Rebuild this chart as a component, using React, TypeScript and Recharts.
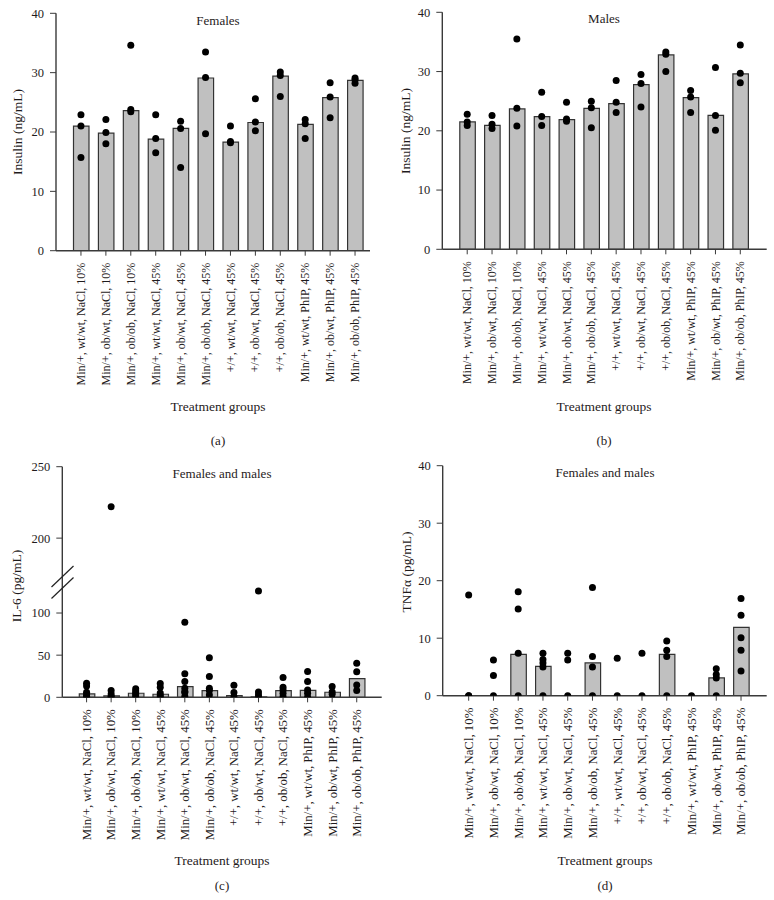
import React from 'react';
import { ComposedChart, Bar, Scatter, XAxis, YAxis } from 'recharts';

// ---------------- DATA ----------------
const groups = [
  'Min/+, wt/wt, NaCl, 10%',
  'Min/+, ob/wt, NaCl, 10%',
  'Min/+, ob/ob, NaCl, 10%',
  'Min/+, wt/wt, NaCl, 45%',
  'Min/+, ob/wt, NaCl, 45%',
  'Min/+, ob/ob, NaCl, 45%',
  '+/+, wt/wt, NaCl, 45%',
  '+/+, ob/wt, NaCl, 45%',
  '+/+, ob/ob, NaCl, 45%',
  'Min/+, wt/wt, PhIP, 45%',
  'Min/+, ob/wt, PhIP, 45%',
  'Min/+, ob/ob, PhIP, 45%',
];

const femaleInsulinMedian = [21.0, 19.8, 23.6, 18.8, 20.6, 29.1, 18.3, 21.6, 29.4, 21.3, 25.8, 28.7];
const femaleInsulinPoints = [
  [22.9, 21.0, 15.7], [22.1, 19.9, 18.0], [34.6, 23.8, 23.4], [22.9, 18.9, 16.5],
  [21.8, 20.6, 14.0], [33.5, 29.2, 19.7], [21.0, 18.4, 18.2], [25.6, 21.7, 20.2],
  [30.1, 29.5, 26.0], [22.1, 21.4, 18.9], [28.3, 25.9, 22.4], [29.1, 28.8, 28.2],
];

const maleInsulinMedian = [21.5, 20.9, 23.7, 22.4, 21.9, 23.8, 24.6, 27.8, 32.8, 25.6, 22.6, 29.6];
const maleInsulinPoints = [
  [22.8, 21.5, 20.9], [22.6, 21.1, 20.4], [35.5, 23.8, 20.8], [26.5, 22.4, 20.9],
  [24.8, 22.0, 21.6], [25.0, 23.9, 20.5], [28.5, 24.8, 23.1], [29.5, 28.0, 24.0],
  [33.3, 32.9, 30.0], [26.8, 25.7, 23.1], [30.7, 22.6, 20.1], [34.5, 29.7, 28.1],
];

const il6Median = [4.0, 1.6, 4.8, 3.6, 12.7, 8.0, 2.0, 0.5, 8.0, 8.3, 6.0, 22.2];
const il6Points = [
  [16.7, 13.5, 6, 3, 1, 0],
  [222, 8, 4, 1, 0],
  [10, 7.5, 5, 3, 1],
  [16.5, 12, 5, 2, 0],
  [89, 27.8, 18.7, 10.7, 7, 5.6, 1],
  [46.8, 24.6, 10.7, 8, 2.8],
  [14.3, 5.6, 0.8],
  [126, 6.3, 2.8, 0],
  [23.4, 12, 8.7, 4.8, 0.8],
  [30.6, 18.7, 8.7, 4.8, 0],
  [12.7, 6.3, 3.2],
  [40.5, 30.2, 14.7, 8],
];

const tnfMedian = [0, 0, 7.2, 5.1, 0, 5.7, 0, 0, 7.2, 0, 3.1, 11.9];
const tnfPoints = [
  [17.5, 0, 0], [6.2, 3.5, 0], [18.1, 15.1, 7.4, 0], [7.4, 6.3, 5.7, 5.0, 0],
  [7.4, 6.2, 0], [18.8, 6.8, 5.0, 0], [6.5, 0], [7.4, 0],
  [9.5, 7.9, 6.8, 0], [0], [4.7, 3.7, 3.1, 0], [16.9, 14.0, 10.1, 7.9, 4.3],
];

const insulinTicks = [0, 10, 20, 30, 40];
const tnfTicks = [0, 10, 20, 30, 40];
const il6UpperTicks = [200, 250];
const il6LowerTicks = [0, 50, 100];
const il6UpperDomain = [170, 250];
const il6LowerDomain = [0, 138];

// ---------------- STYLE ----------------
const FONT = '"Liberation Serif", "Times New Roman", serif';
const TEXT = '#1f1b1c';
const AXIS = '#3a3a3a';
const BAR_FILL = '#c0c0c0';

const XTick = (props: any) => {
  const { x, y, payload, fs } = props;
  return (
    <text
      x={x}
      y={y}
      transform={`rotate(-90 ${x} ${y})`}
      textAnchor="end"
      dy="0.34em"
      fontSize={fs}
      fontFamily={FONT}
      fill={TEXT}
    >
      {payload.value}
    </text>
  );
};

const Dot = (props: any) => {
  const { cx, cy } = props;
  if (cx == null || cy == null) return null;
  return <circle cx={cx} cy={cy} r={3.5} fill="#000" />;
};

type PanelProps = {
  box: { left: number; top: number; width: number; height: number };
  plot: { left: number; right: number; top: number; bottom: number };
  pad: { left: number; right: number };
  domain: number[];
  ticks: number[];
  medians?: number[];
  points: { group: string; value: number }[];
  showX: boolean;
  xFont?: number;
};

const Y_W = 56;
const X_H = 150;

function Panel(p: PanelProps) {
  const xH = p.showX ? X_H : 0;
  const margin = {
    left: p.plot.left - p.box.left - Y_W,
    top: p.plot.top - p.box.top,
    right: p.box.left + p.box.width - p.plot.right,
    bottom: p.box.top + p.box.height - p.plot.bottom - xH,
  };
  const data = groups.map((g, i) => ({ group: g, median: p.medians ? p.medians[i] : null }));
  return (
    <div style={{ position: 'absolute', left: p.box.left, top: p.box.top }}>
      <ComposedChart width={p.box.width} height={p.box.height} data={data} margin={margin}>
        <XAxis
          dataKey="group"
          type="category"
          allowDuplicatedCategory={false}
          interval={0}
          hide={!p.showX}
          height={xH}
          padding={p.pad}
          tickSize={5}
          tickMargin={7}
          tick={<XTick fs={p.xFont ?? 12} />}
          axisLine={{ stroke: AXIS, strokeWidth: 1.4 }}
          tickLine={{ stroke: AXIS, strokeWidth: 1 }}
        />
        <YAxis
          type="number"
          width={Y_W}
          domain={p.domain}
          ticks={p.ticks}
          interval={0}
          allowDataOverflow
          tickSize={6}
          tickMargin={6}
          tick={{ fontSize: 12.5, fontFamily: FONT, fill: TEXT }}
          axisLine={{ stroke: AXIS, strokeWidth: 1.4 }}
          tickLine={{ stroke: AXIS, strokeWidth: 1 }}
        />
        <Bar
          dataKey="median"
          barSize={15.5}
          fill={BAR_FILL}
          stroke="#333"
          strokeWidth={1.2}
          isAnimationActive={false}
        />
        <Scatter data={p.points} dataKey="value" shape={<Dot />} isAnimationActive={false} />
      </ComposedChart>
    </div>
  );
}

const flatten = (pts: number[][], keep: (v: number) => boolean) =>
  pts.flatMap((arr, i) => arr.filter(keep).map((v) => ({ group: groups[i], value: v })));

const Label = ({ x, y, text, size = 13, rotate = false }: any) => (
  <text
    x={x}
    y={y}
    textAnchor="middle"
    dominantBaseline="central"
    fontSize={size}
    fontFamily={FONT}
    fill={TEXT}
    transform={rotate ? `rotate(-90 ${x} ${y})` : undefined}
  >
    {text}
  </text>
);

export default function App() {
  return (
    <div style={{ position: 'absolute', left: 0, top: 0, width: 774, height: 900, background: '#fff' }}>
      <Panel
        box={{ left: 0, top: 0, width: 390, height: 420 }}
        plot={{ left: 56, right: 370, top: 13.3, bottom: 250.7 }}
        pad={{ left: 12.5, right: 2.5 }}
        domain={[0, 40]}
        ticks={insulinTicks}
        medians={femaleInsulinMedian}
        points={flatten(femaleInsulinPoints, () => true)}
        showX
      />
      <Panel
        box={{ left: 386, top: 0, width: 388, height: 420 }}
        plot={{ left: 442.3, right: 766.7, top: 12.3, bottom: 249.3 }}
        pad={{ left: 12.5, right: 14 }}
        domain={[0, 40]}
        ticks={insulinTicks}
        medians={maleInsulinMedian}
        points={flatten(maleInsulinPoints, () => true)}
        showX
      />
      <Panel
        box={{ left: 0, top: 450, width: 390, height: 131 }}
        plot={{ left: 62.3, right: 381.7, top: 466.7, bottom: 581 }}
        pad={{ left: 12, right: 12.7 }}
        domain={il6UpperDomain}
        ticks={il6UpperTicks}
        points={flatten(il6Points, (v) => v > il6LowerDomain[1])}
        showX={false}
      />
      <Panel
        box={{ left: 0, top: 575, width: 390, height: 300 }}
        plot={{ left: 62.3, right: 381.7, top: 581, bottom: 697.3 }}
        pad={{ left: 12, right: 12.7 }}
        domain={il6LowerDomain}
        ticks={il6LowerTicks}
        medians={il6Median}
        points={flatten(il6Points, (v) => v <= il6LowerDomain[1])}
        showX
        xFont={12.8}
      />
      <Panel
        box={{ left: 386, top: 450, width: 388, height: 420 }}
        plot={{ left: 442.7, right: 766.7, top: 465.7, bottom: 695.7 }}
        pad={{ left: 13.6, right: 13.3 }}
        domain={[0, 40]}
        ticks={tnfTicks}
        medians={tnfMedian}
        points={flatten(tnfPoints, () => true)}
        showX
        xFont={12.8}
      />
      <svg
        width={774}
        height={900}
        style={{ position: 'absolute', left: 0, top: 0, pointerEvents: 'none' }}
      >
        <Label x={218} y={20} text="Females" />
        <Label x={604} y={18.5} text="Males" />
        <Label x={222} y={473} text="Females and males" />
        <Label x={605} y={472.5} text="Females and males" />

        <Label x={17.5} y={132} text="Insulin (ng/mL)" size={13.5} rotate />
        <Label x={405} y={131} text="Insulin (ng/mL)" size={13.5} rotate />
        <Label x={16} y={586} text="IL-6 (pg/mL)" size={13.5} rotate />
        <Label x={406.5} y={572} text="TNFα (pg/mL)" size={13.5} rotate />

        <Label x={218} y={406} text="Treatment groups" size={13.5} />
        <Label x={604} y={406} text="Treatment groups" size={13.5} />
        <Label x={222} y={860} text="Treatment groups" size={13.5} />
        <Label x={605} y={860} text="Treatment groups" size={13.5} />

        <Label x={218} y={440} text="(a)" />
        <Label x={604} y={440} text="(b)" />
        <Label x={222} y={885} text="(c)" />
        <Label x={605} y={885} text="(d)" />

        <line x1={51.5} y1={587} x2={73.5} y2={566} stroke="#222" strokeWidth={1.2} />
        <line x1={51.5} y1={598.5} x2={73.5} y2={577.5} stroke="#222" strokeWidth={1.2} />
      </svg>
    </div>
  );
}
